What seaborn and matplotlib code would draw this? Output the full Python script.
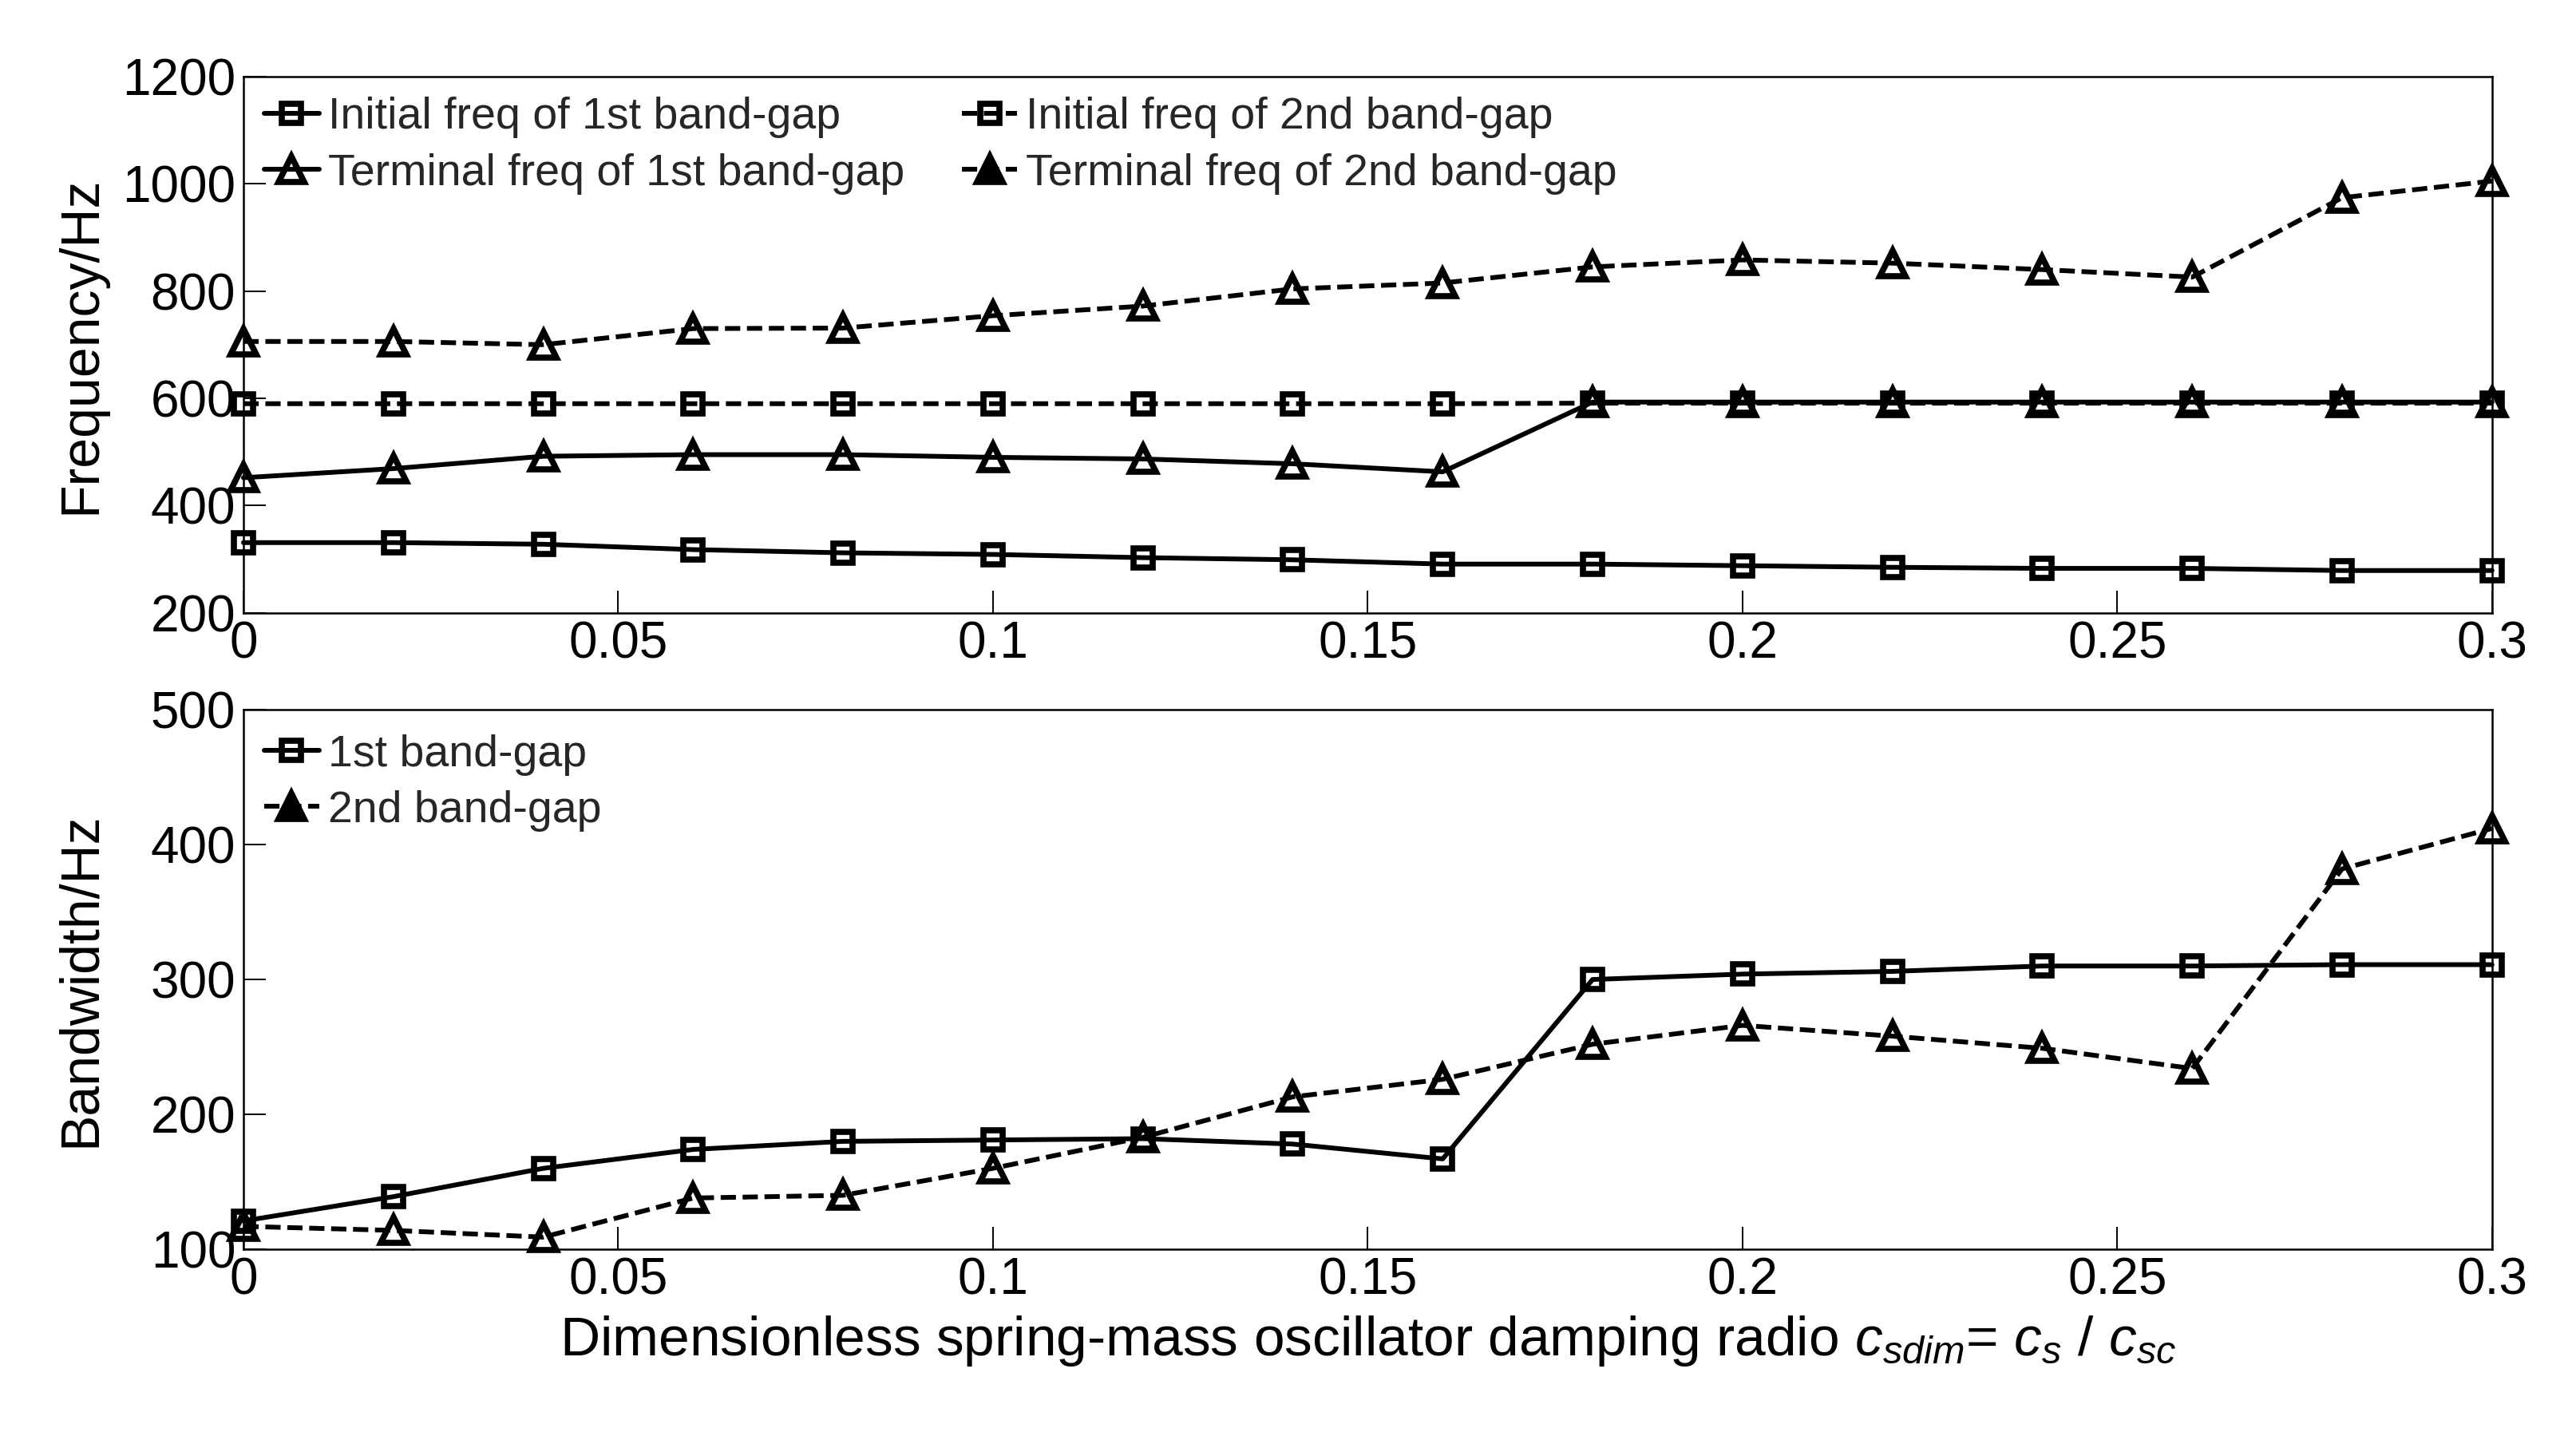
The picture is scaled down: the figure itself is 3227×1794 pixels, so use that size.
import matplotlib
matplotlib.use('Agg')
import matplotlib.pyplot as plt
from matplotlib.lines import Line2D
import seaborn as sns

# dimensionless damping ratio c_sdim
c_sdim = [0, 0.02, 0.04, 0.06, 0.08, 0.10, 0.12, 0.14,
          0.16, 0.18, 0.20, 0.22, 0.24, 0.26, 0.28, 0.30]

# band-gap edge frequencies (Hz)
init_1st = [331, 331, 328, 318, 312, 309, 303, 299, 291, 291, 288, 285, 283, 283, 279, 279]
term_1st = [452, 469, 492, 495, 495, 490, 487, 478, 463, 593, 593, 593, 593, 593, 593, 593]
init_2nd = [590, 590, 590, 590, 590, 590, 590, 590, 590, 591, 591, 591, 591, 591, 591, 591]
term_2nd = [706, 706, 700, 730, 731, 754, 772, 804, 815, 845, 858, 852, 840, 826, 974, 1005]

# bandwidths (Hz)
bw_1st = [121, 139, 160, 174, 180, 181, 182, 178, 167, 300, 304, 306, 310, 310, 311, 311]
bw_2nd = [117, 114, 109, 138, 140, 160, 183, 213, 226, 252, 266, 258, 249, 234, 382, 412]

x_ticks = [0, 0.05, 0.1, 0.15, 0.2, 0.25, 0.3]
x_tick_labels = ['0', '0.05', '0.1', '0.15', '0.2', '0.25', '0.3']
top_yticks = [200, 400, 600, 800, 1000, 1200]
bot_yticks = [100, 200, 300, 400, 500]

LW = 4.3
DASH = (0, (3.2, 1.4))
SQ = dict(marker='s', ms=17, mew=5.5)
TRI = dict(marker='^', ms=23, mew=5.5)

sns.set_theme(style='white')
plt.rcParams['font.family'] = ['Liberation Sans', 'DejaVu Sans']
plt.rcParams['mathtext.fontset'] = 'custom'
plt.rcParams['mathtext.rm'] = 'Liberation Sans'
plt.rcParams['mathtext.it'] = 'Liberation Sans:italic'


def draw(ax, y, ls, mk):
    sns.lineplot(x=c_sdim, y=y, ax=ax, color='black', lw=LW, linestyle=ls,
                 mfc='none', mec='black', clip_on=False, legend=False,
                 estimator=None, sort=False, **mk)


def handle(ls, mk, filled=False):
    return Line2D([], [], color='black', lw=LW, linestyle=ls,
                  mfc='black' if filled else 'none', mec='black', **mk)


def style_axes(ax, yticks, ylabel):
    ax.set_xlim(0, 0.3)
    ax.set_ylim(yticks[0], yticks[-1])
    ax.set_xticks(x_ticks)
    ax.set_xticklabels(x_tick_labels)
    ax.set_yticks(yticks)
    ax.set_yticklabels([str(v) for v in yticks])
    ax.tick_params(direction='in', length=20, width=1.4, labelsize=46, pad=7,
                   top=False, right=False, bottom=True, left=True, colors='black')
    for s in ax.spines.values():
        s.set_linewidth(1.8)
        s.set_color('black')
    ax.set_ylabel(ylabel, fontsize=49, color='black')
    ax.yaxis.set_label_coords(-0.061, 0.5)
    ax.set_xlabel('')


fig = plt.figure(figsize=(32.27, 17.94), dpi=100)
ax1 = fig.add_axes([0.0945, 0.572, 0.8729, 0.3746])
ax2 = fig.add_axes([0.0945, 0.1276, 0.8729, 0.3768])

# top: band-gap edges
draw(ax1, init_1st, '-', SQ)
draw(ax1, term_1st, '-', TRI)
draw(ax1, init_2nd, DASH, SQ)
draw(ax1, term_2nd, DASH, TRI)
style_axes(ax1, top_yticks, 'Frequency/Hz')

h_top = [handle('-', SQ), handle('-', TRI), handle(DASH, SQ), handle(DASH, TRI, True)]
l_top = ['Initial freq of 1st band-gap', 'Terminal freq of 1st band-gap',
         'Initial freq of 2nd band-gap', 'Terminal freq of 2nd band-gap']
ax1.legend(h_top, l_top, ncol=2, loc='upper left', bbox_to_anchor=(0.0092, 0.962),
           frameon=False, fontsize=40, borderpad=0, borderaxespad=0,
           handlelength=1.24, handletextpad=0.2, columnspacing=1.3,
           labelspacing=0.33, numpoints=1)

# bottom: bandwidths
draw(ax2, bw_1st, '-', SQ)
draw(ax2, bw_2nd, DASH, TRI)
style_axes(ax2, bot_yticks, 'Bandwidth/Hz')
ax2.legend([handle('-', SQ), handle(DASH, TRI, True)], ['1st band-gap', '2nd band-gap'],
           loc='upper left', bbox_to_anchor=(0.0092, 0.955), frameon=False,
           fontsize=40, borderpad=0, borderaxespad=0, handlelength=1.24,
           handletextpad=0.2, labelspacing=0.33, numpoints=1)
ax2.set_xlabel(r'Dimensionless spring-mass oscillator damping radio $c_{sdim}$= $c_{s}$ / $c_{sc}$',
               fontsize=50, color='black', labelpad=8)

fig.savefig('out.png', dpi=100, facecolor='white')
